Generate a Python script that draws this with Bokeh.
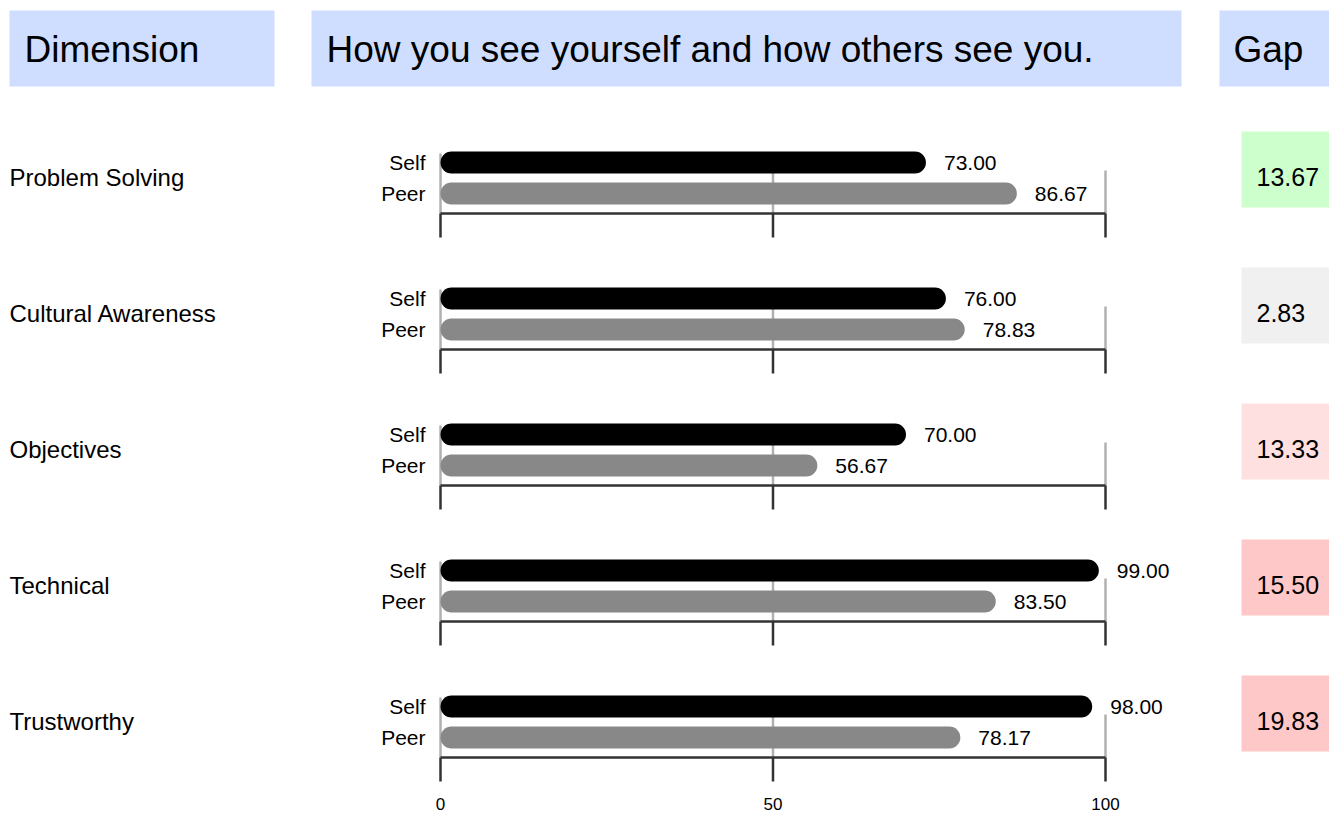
from bokeh.plotting import figure
from bokeh.models import Range1d
from bokeh.core.properties import value
from bokeh.embed import file_html
from bokeh.resources import INLINE

# ---------------- data ----------------
dimensions = ["Problem Solving", "Cultural Awareness", "Objectives", "Technical", "Trustworthy"]
self_scores = [73.00, 76.00, 70.00, 99.00, 98.00]
peer_scores = [86.67, 78.83, 56.67, 83.50, 78.17]
gaps = [13.67, 2.83, 13.33, 15.50, 19.83]
gap_colors = ["#ccffcc", "#f0f0f0", "#ffe0e0", "#ffc8c8", "#ffc8c8"]
series_labels = ["Self", "Peer"]
tick_values = [0, 50, 100]
tick_labels = ["0", "50", "100"]
headers = ["Dimension", "How you see yourself and how others see you.", "Gap"]

# ---------------- layout ----------------
W, H = 1329, 813
PX0 = 440.0        # pixel where value 0 sits
PXU = 6.65         # pixels per value unit
FONT = value("Liberation Sans")
TXT = "#000000"


def dx(px):
    """pixel x -> data x"""
    return (px - PX0) / PXU


def fy(py):
    """pixel y -> data y"""
    return py


n = len(dimensions)
row_self = [fy(162 + 136 * i) for i in range(n)]
row_peer = [y + 31 for y in row_self]
row_axis = [y + 51 for y in row_self]

p = figure(width=W, height=H,
           x_range=Range1d(-PX0 / PXU, (W - PX0) / PXU),
           y_range=Range1d(H, 0),
           output_backend="svg", toolbar_location=None,
           x_axis_location=None, y_axis_location=None, min_border=0)
p.grid.visible = False
p.outline_line_color = None
p.background_fill_color = "white"
p.border_fill_color = "white"

# header boxes
hdr_left = [dx(9), dx(311), dx(1219)]
hdr_right = [dx(274), dx(1181), dx(1335)]
hdr_text_x = [dx(24), dx(326), dx(1233)]
p.quad(left=hdr_left, right=hdr_right, top=[fy(10)] * 3, bottom=[fy(86)] * 3,
       fill_color="#cfdeff", line_color=None)
p.text(x=hdr_text_x, y=[fy(49)] * 3, text=headers, text_font=FONT,
       text_font_size="37px", text_baseline="middle", text_align="left", text_color=TXT)

# dimension labels
p.text(x=[dx(9)] * n, y=[y + 15 for y in row_self], text=dimensions, text_font=FONT,
       text_font_size="24px", text_baseline="middle", text_align="left", text_color=TXT)

# gridlines (behind bars)
grid_x0, grid_x1, grid_top, grid_bot = [], [], [], []
for i in range(n):
    for t in tick_values:
        grid_x0.append(t)
        grid_x1.append(t)
        grid_top.append(row_self[i] - 9 if t == tick_values[0] else row_self[i] + 8)
        grid_bot.append(row_axis[i])
p.segment(x0=grid_x0, y0=grid_top, x1=grid_x1, y1=grid_bot, line_color="#b0b0b0", line_width=2.5)

# bars
BAR_H = 22
p.hbar(y=row_self, left=0, right=self_scores, height=BAR_H, fill_color="#000000",
       line_color=None, border_radius=11)
p.hbar(y=row_peer, left=0, right=peer_scores, height=BAR_H, fill_color="#888888",
       line_color=None, border_radius=11)

# value labels
off = 18 / PXU
p.text(x=[v + off for v in self_scores], y=row_self, text=[f"{v:.2f}" for v in self_scores],
       text_font=FONT, text_font_size="21px", text_baseline="middle", text_align="left",
       text_color=TXT)
p.text(x=[v + off for v in peer_scores], y=row_peer, text=[f"{v:.2f}" for v in peer_scores],
       text_font=FONT, text_font_size="21px", text_baseline="middle", text_align="left",
       text_color=TXT)

# Self / Peer labels
p.text(x=[dx(425)] * (2 * n), y=row_self + row_peer,
       text=[series_labels[0]] * n + [series_labels[1]] * n,
       text_font=FONT, text_font_size="21px", text_baseline="middle", text_align="right",
       text_color=TXT)

# per-row axis lines and ticks
p.segment(x0=[tick_values[0]] * n, y0=row_axis, x1=[tick_values[-1]] * n, y1=row_axis,
          line_color="#333333", line_width=2.5)
tx, ty0, ty1 = [], [], []
for i in range(n):
    for t in tick_values:
        tx.append(t)
        ty0.append(row_axis[i])
        ty1.append(row_axis[i] + 24)
p.segment(x0=tx, y0=ty0, x1=tx, y1=ty1, line_color="#333333", line_width=2.5)

# tick labels at the bottom
p.text(x=tick_values, y=[row_axis[-1] + 46] * len(tick_values), text=tick_labels,
       text_font=FONT, text_font_size="17px", text_baseline="middle", text_align="center",
       text_color=TXT)

# gap boxes
p.quad(left=[dx(1241)] * n, right=[dx(1335)] * n,
       top=[y - 31 for y in row_self], bottom=[y + 45 for y in row_self],
       fill_color=gap_colors, line_color=None)
p.text(x=[dx(1256)] * n, y=[y + 14 for y in row_self], text=[f"{g:.2f}" for g in gaps],
       text_font=FONT, text_font_size="25px", text_baseline="middle", text_align="left",
       text_color=TXT)

open("out.html", "w").write(file_html(p, INLINE))
